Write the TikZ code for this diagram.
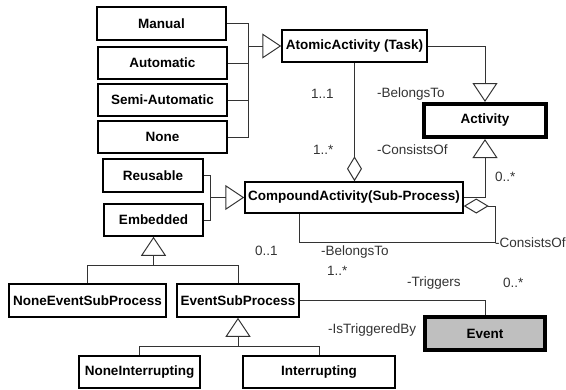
\documentclass[tikz,border=0pt]{standalone}
\usepackage{fontspec}
\setmainfont{Liberation Sans}
\usepackage{tikz}
\usetikzlibrary{arrows.meta,calc,positioning}
\tikzset{
    component/.style={
    rectangle,draw=black,line width=1.5pt,inner sep=0pt,
    font=\fontsize{13.5}{15}\selectfont\bfseries
    },
    maincp/.style={
    component,line width=4pt
    },
    rolelbl/.style={
    inner sep=0pt,anchor=west,text=black!80,font=\fontsize{13.5}{15}\selectfont
    },
    conn/.style={
    line width=1pt,draw=black!80
    },
    inherit/.style={
    conn,-{Triangle[open,length=19pt,width=25pt,line width=1pt]}
    },
    aggr/.style={
    conn,-{Diamond[open,length=25pt,width=15pt,line width=1pt]}
    },
}
\begin{document}
\begin{tikzpicture}[x=1pt,y=-1pt]
   \useasboundingbox (0,0) rectangle (566,389);
   % task types
   \node[component,minimum width=129pt,minimum height=33pt] (Manual) at (161.5,23.5) {Manual};
   \node[component,minimum width=129pt,minimum height=32pt] (Automatic) at (162.5,63) {Automatic};
   \node[component,minimum width=129pt,minimum height=32pt] (SemiAuto) at (162.5,100) {Semi-Automatic};
   \node[component,minimum width=129pt,minimum height=32pt] (None) at (162.5,137) {None};
   \node[component,minimum width=100pt,minimum height=33pt] (Reusable) at (153,175.5) {Reusable};
   \node[component,minimum width=99pt,minimum height=32pt] (Embedded) at (153.5,220) {Embedded};
   \node[component,minimum width=145pt,minimum height=32pt] (Atomic) at (354.5,46) {AtomicActivity (Task)};
   \node[maincp,minimum width=122pt,minimum height=33pt] (Activity) at (485,120.5) {Activity};
   \node[component,minimum width=218pt,minimum height=31pt] (Compound) at (354,197.5) {CompoundActivity(Sub-Process)};
   \node[component,minimum width=157pt,minimum height=33pt] (NoneESP) at (87.5,300.5) {NoneEventSubProcess};
   \node[component,minimum width=122pt,minimum height=33pt] (ESP) at (238,300.5) {EventSubProcess};
   \node[component,minimum width=121pt,minimum height=32pt] (NoneInt) at (139.5,372) {NoneInterrupting};
   \node[component,minimum width=152pt,minimum height=32pt] (Interrupt) at (319,372) {Interrupting};
   \node[maincp,fill=black!25,minimum width=120pt,minimum height=33pt] (Event) at (485,333.5) {Event};

   \coordinate (jA) at (248,46);
   \coordinate (jC) at (210,197.5);
   \coordinate (jE) at (153.5,265);
   \coordinate (jS) at (238,346);
   \coordinate (loopC) at (495,242);

   % generalisations
   \draw[conn] (Manual.east) -| (jA);
   \draw[conn] (Automatic.east) -| (jA);
   \draw[conn] (SemiAuto.east) -| (jA);
   \draw[conn] (None.east) -| (jA);
   \draw[inherit] (jA) -- (Atomic.west);
   \draw[inherit] (Atomic.east) -| (Activity.north);
   \draw[inherit] (Compound.east) -| (Activity.south);
   \draw[conn] (Reusable.east) -| (jC);
   \draw[conn] (Embedded.east) -| (jC);
   \draw[inherit] (jC) -- (Compound.west);
   \draw[conn] (NoneESP.north) |- (jE);
   \draw[conn] (ESP.north) |- (jE);
   \draw[inherit] (jE) -- (Embedded.south);
   \draw[conn] (NoneInt.north) |- (jS);
   \draw[conn] (Interrupt.north) |- (jS);
   \draw[inherit] (jS) -- (ESP.south);

   % associations
   \draw[aggr] (Atomic.south) -- (Atomic.south |- Compound.north);
   \draw[aggr] ([xshift=-55pt]Compound.south) |- (loopC) |- ([yshift=-8.5pt]Compound.east);
   \draw[conn] (ESP.east) -| (Event.north);

   % roles and multiplicities
   \node[rolelbl] (m11) at (311,94) {1..1};
   \node[rolelbl] (rBel1) at (377,94) {-BelongsTo};
   \node[rolelbl] (m1n) at (313,150) {1..*};
   \node[rolelbl] (rCon1) at (377,150) {-ConsistsOf};
   \node[rolelbl] (m0n) at (495,177) {0..*};
   \node[rolelbl] (rCon2) at (495,243) {-ConsistsOf};
   \node[rolelbl] (m01) at (255,251) {0..1};
   \node[rolelbl] (rBel2) at (321,252) {-BelongsTo};
   \node[rolelbl] (m1n2) at (327,271) {1..*};
   \node[rolelbl] (rTrig) at (407,283) {-Triggers};
   \node[rolelbl] (m0n2) at (503,283) {0..*};
   \node[rolelbl] (rTrigBy) at (328,330) {-IsTriggeredBy};
\end{tikzpicture}
\end{document}
